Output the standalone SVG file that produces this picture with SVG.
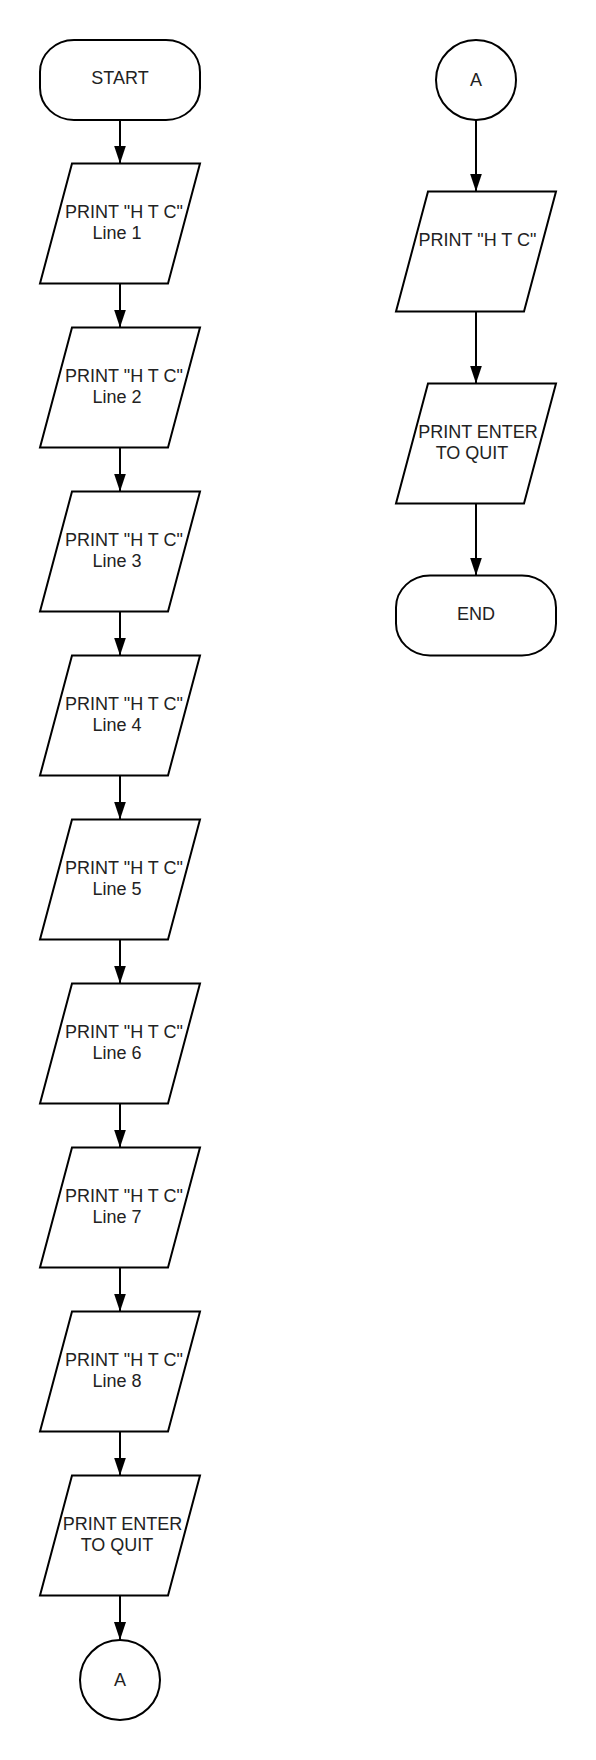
<svg xmlns="http://www.w3.org/2000/svg" width="596" height="1760" viewBox="0 0 596 1760">
<defs>
<style>
.s{fill:#fff;stroke:#000;stroke-width:2}
.t{font-family:"Liberation Sans",Arial,sans-serif;font-size:18px;fill:#222;text-anchor:middle}
.c{stroke:#000;stroke-width:2;fill:none;marker-end:url(#ah)}
</style>
<marker id="ah" markerWidth="18" markerHeight="12" refX="18" refY="6" orient="auto" markerUnits="userSpaceOnUse">
<path d="M0,0 L18,6 L0,12 Z" fill="#000"/>
</marker>
</defs>
<rect width="596" height="1760" fill="#fff"/>
<g id="connectors">
<line class="c" x1="120" y1="120" x2="120" y2="163.5"/>
<line class="c" x1="120" y1="283.5" x2="120" y2="327.5"/>
<line class="c" x1="120" y1="447.5" x2="120" y2="491.5"/>
<line class="c" x1="120" y1="611.5" x2="120" y2="655.5"/>
<line class="c" x1="120" y1="775.5" x2="120" y2="819.5"/>
<line class="c" x1="120" y1="939.5" x2="120" y2="983.5"/>
<line class="c" x1="120" y1="1103.5" x2="120" y2="1147.5"/>
<line class="c" x1="120" y1="1267.5" x2="120" y2="1311.5"/>
<line class="c" x1="120" y1="1431.5" x2="120" y2="1475.5"/>
<line class="c" x1="120" y1="1595.5" x2="120" y2="1640"/>
<line class="c" x1="476" y1="120" x2="476" y2="191.5"/>
<line class="c" x1="476" y1="311.5" x2="476" y2="383.5"/>
<line class="c" x1="476" y1="503.5" x2="476" y2="575.5"/>
</g>
<g id="start"><rect class="s" x="40" y="40" width="160" height="80" rx="34" ry="32"/><text class="t" x="120" y="83.5">START</text></g>
<g id="p1"><path class="s" d="M72,163.5 H200 L168,283.5 H40 Z"/><text class="t" x="124" y="218">PRINT "H T C"</text><text class="t" x="117" y="239">Line 1</text></g>
<g id="p2"><path class="s" d="M72,327.5 H200 L168,447.5 H40 Z"/><text class="t" x="124" y="382">PRINT "H T C"</text><text class="t" x="117" y="403">Line 2</text></g>
<g id="p3"><path class="s" d="M72,491.5 H200 L168,611.5 H40 Z"/><text class="t" x="124" y="546">PRINT "H T C"</text><text class="t" x="117" y="567">Line 3</text></g>
<g id="p4"><path class="s" d="M72,655.5 H200 L168,775.5 H40 Z"/><text class="t" x="124" y="710">PRINT "H T C"</text><text class="t" x="117" y="731">Line 4</text></g>
<g id="p5"><path class="s" d="M72,819.5 H200 L168,939.5 H40 Z"/><text class="t" x="124" y="874">PRINT "H T C"</text><text class="t" x="117" y="895">Line 5</text></g>
<g id="p6"><path class="s" d="M72,983.5 H200 L168,1103.5 H40 Z"/><text class="t" x="124" y="1038">PRINT "H T C"</text><text class="t" x="117" y="1059">Line 6</text></g>
<g id="p7"><path class="s" d="M72,1147.5 H200 L168,1267.5 H40 Z"/><text class="t" x="124" y="1202">PRINT "H T C"</text><text class="t" x="117" y="1223">Line 7</text></g>
<g id="p8"><path class="s" d="M72,1311.5 H200 L168,1431.5 H40 Z"/><text class="t" x="124" y="1366">PRINT "H T C"</text><text class="t" x="117" y="1387">Line 8</text></g>
<g id="p9"><path class="s" d="M72,1475.5 H200 L168,1595.5 H40 Z"/><text class="t" x="122.5" y="1529.5">PRINT ENTER</text><text class="t" x="117" y="1550.5">TO QUIT</text></g>
<g id="connA1"><circle class="s" cx="120" cy="1680" r="40"/><text class="t" x="120" y="1686">A</text></g>
<g id="connA2"><circle class="s" cx="476" cy="80" r="40"/><text class="t" x="476" y="86">A</text></g>
<g id="r1"><path class="s" d="M428,191.5 H556 L524,311.5 H396 Z"/><text class="t" x="477.5" y="246">PRINT "H T C"</text></g>
<g id="r2"><path class="s" d="M428,383.5 H556 L524,503.5 H396 Z"/><text class="t" x="478" y="437.5">PRINT ENTER</text><text class="t" x="472" y="459">TO QUIT</text></g>
<g id="end"><rect class="s" x="396" y="575.5" width="160" height="80" rx="34" ry="32"/><text class="t" x="476" y="619.5">END</text></g>
</svg>
